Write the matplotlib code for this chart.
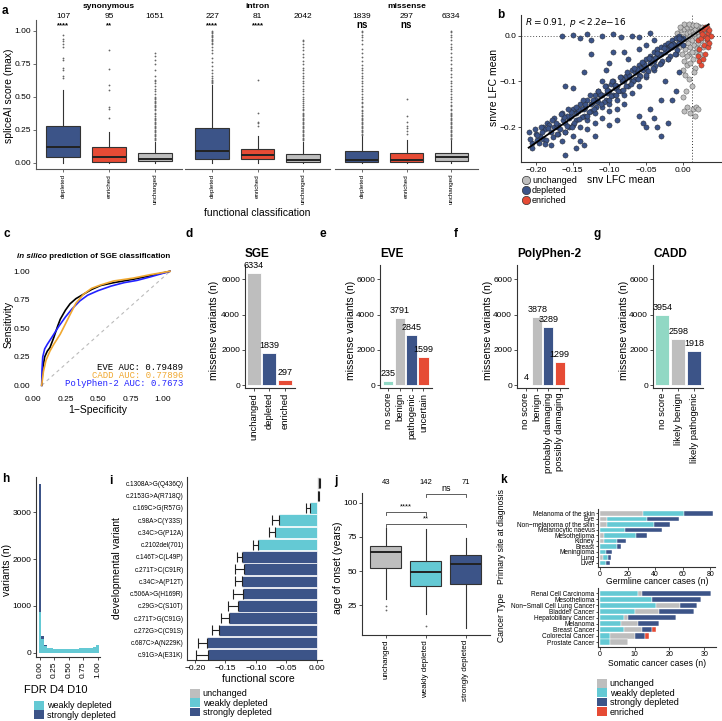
import numpy as np
import matplotlib.pyplot as plt
from matplotlib.patches import Patch
from matplotlib.lines import Line2D

plt.rcParams['font.family'] = ['Liberation Sans', 'DejaVu Sans']

GREY = '#BEBEBE'
BLUE = '#3C5488'
RED = '#E64B35'
CYAN = '#64C9D4'
MINT = '#91D8C4'
EDGE = '#333333'

# ---------------- panel a: spliceAI score boxplots ----------------
a_groups = ['synonymous', 'intron', 'missense']
a_classes = ['depleted', 'enriched', 'unchanged']
a_counts = [[107, 95, 1651], [227, 81, 2042], [1839, 297, 6334]]
a_signif = [['****', '**', ''], ['****', '****', ''], ['ns', 'ns', '']]
# (whislo, q1, med, q3, whishi)
a_stats = [
    [(0.0, 0.045, 0.12, 0.28, 0.55), (0.0, 0.005, 0.04, 0.12, 0.23), (0.0, 0.01, 0.03, 0.075, 0.16)],
    [(0.0, 0.03, 0.09, 0.265, 0.59), (0.0, 0.025, 0.055, 0.105, 0.2), (0.0, 0.005, 0.018, 0.065, 0.16)],
    [(0.0, 0.005, 0.018, 0.085, 0.2), (0.0, 0.005, 0.018, 0.07, 0.17), (0.0, 0.01, 0.04, 0.075, 0.17)],
]
a_fliers = [
    [[0.64, 0.66, 0.7, 0.72, 0.78, 0.79, 0.88, 0.9, 0.92, 0.94, 0.97],
     [0.34, 0.41, 0.42, 0.55, 0.59, 0.71, 0.85],
     [0.17, 0.18, 0.19, 0.2, 0.21, 0.22, 0.23, 0.24, 0.25, 0.26, 0.27, 0.28, 0.29, 0.3, 0.31, 0.32,
      0.33, 0.34, 0.35, 0.37, 0.38, 0.4, 0.41, 0.42, 0.43, 0.44, 0.45, 0.46, 0.47, 0.48, 0.49, 0.5,
      0.52, 0.54, 0.56, 0.58, 0.6, 0.62, 0.63, 0.66, 0.7, 0.75, 0.78, 0.81, 0.83]],
    [[0.6, 0.61, 0.62, 0.63, 0.64, 0.66, 0.68, 0.7, 0.73, 0.76, 0.79, 0.83, 0.85, 0.88, 0.9, 0.91,
      0.92, 0.93, 0.94, 0.95, 0.96, 0.97, 0.98, 0.99, 1.0],
     [0.28, 0.3, 0.31, 0.38, 0.63],
     [0.17, 0.18, 0.19, 0.2, 0.21, 0.22, 0.23, 0.24, 0.25, 0.26, 0.27, 0.28, 0.29, 0.3, 0.31, 0.32,
      0.33, 0.34, 0.35, 0.36, 0.37, 0.38, 0.4, 0.41, 0.42, 0.44, 0.45, 0.47, 0.48, 0.5, 0.52, 0.54,
      0.56, 0.58, 0.6, 0.62, 0.64, 0.66, 0.68, 0.7, 0.72, 0.75, 0.77, 0.8, 0.82, 0.85, 0.88, 0.9,
      0.92, 0.93]],
    [[0.21, 0.22, 0.23, 0.24, 0.25, 0.26, 0.27, 0.28, 0.29, 0.3, 0.31, 0.32, 0.33, 0.34, 0.35, 0.36,
      0.38, 0.39, 0.4, 0.42, 0.43, 0.45, 0.46, 0.48, 0.5, 0.52, 0.54, 0.56, 0.58, 0.6, 0.62, 0.64,
      0.66, 0.68, 0.7, 0.72, 0.74, 0.77, 0.8, 0.83, 0.86, 0.9, 0.93, 0.95, 0.97, 0.99, 1.0],
     [0.22, 0.24, 0.26, 0.28, 0.31, 0.35, 0.48],
     [0.18, 0.19, 0.2, 0.21, 0.22, 0.23, 0.24, 0.25, 0.26, 0.27, 0.28, 0.29, 0.3, 0.31, 0.32, 0.33,
      0.34, 0.35, 0.36, 0.37, 0.38, 0.4, 0.41, 0.43, 0.44, 0.46, 0.48, 0.5, 0.52, 0.54, 0.56, 0.58,
      0.6, 0.62, 0.65, 0.67, 0.7, 0.72, 0.75, 0.78, 0.8, 0.83, 0.86, 0.88, 0.9, 0.93, 0.95, 0.97,
      0.99, 1.0]],
]

# ---------------- panel b: snv vs snvre LFC ----------------
b_unch_x = [-0.008, -0.005, -0.003, 0.0, 0.0, 0.002, 0.003, 0.004, 0.005, 0.006, 0.007, 0.008, 0.009,
            0.01, 0.01, 0.011, 0.012, 0.013, 0.014, 0.015, 0.015, 0.016, 0.017, 0.018, 0.019, 0.02,
            0.02, 0.021, 0.022, 0.023, 0.024, 0.025, 0.026, 0.027, 0.028, 0.03, -0.002, -0.006,
            0.001, 0.005, 0.01, 0.016, 0.002, 0.008, 0.013, 0.018, -0.01, -0.004, 0.006, 0.012,
            0.003, 0.008, 0.0, 0.015, 0.012, 0.004, 0.0, 0.006, 0.013, 0.018, 0.002, 0.009, 0.016, 0.021]
b_unch_y = [0.005, -0.01, 0.012, -0.02, 0.0, 0.015, -0.03, -0.008, 0.005, 0.02, -0.015, -0.04, 0.008,
            -0.025, 0.0, 0.018, -0.01, -0.05, 0.01, -0.02, 0.004, -0.035, 0.015, -0.005, -0.028, 0.008,
            0.022, -0.015, 0.0, -0.04, 0.012, -0.01, 0.02, -0.025, 0.005, 0.015, -0.04, -0.025,
            -0.055, -0.065, -0.06, -0.07, 0.025, 0.025, 0.024, 0.024, -0.005, 0.02, -0.045, -0.035,
            -0.085, -0.095, -0.075, -0.08, -0.11, -0.12, -0.135, -0.155, -0.16, -0.155, -0.165, -0.17,
            -0.175, -0.16]
b_dep_x = [-0.21, -0.205, -0.2, -0.195, -0.19, -0.19, -0.185, -0.18, -0.18, -0.175, -0.175, -0.17,
           -0.17, -0.165, -0.165, -0.16, -0.16, -0.16, -0.155, -0.155, -0.15, -0.15, -0.15, -0.145,
           -0.145, -0.14, -0.14, -0.14, -0.135, -0.135, -0.13, -0.13, -0.13, -0.125, -0.125, -0.12,
           -0.12, -0.12, -0.115, -0.115, -0.11, -0.11, -0.11, -0.105, -0.105, -0.1, -0.1, -0.1,
           -0.095, -0.095, -0.09, -0.09, -0.09, -0.085, -0.085, -0.08, -0.08, -0.08, -0.075, -0.075,
           -0.07, -0.07, -0.07, -0.065, -0.065, -0.06, -0.06, -0.06, -0.055, -0.055, -0.05, -0.05,
           -0.05, -0.045, -0.045, -0.04, -0.04, -0.04, -0.035, -0.035, -0.03, -0.03, -0.03, -0.025,
           -0.025, -0.02, -0.02, -0.02, -0.015, -0.015, -0.01, -0.01, -0.01, -0.005, -0.005, 0.0, 0.0,
           -0.198, -0.188, -0.172, -0.163, -0.152, -0.143, -0.133, -0.122, -0.113, -0.103, -0.093,
           -0.083, -0.073, -0.063, -0.053, -0.043, -0.033, -0.023, -0.013, -0.003, -0.158, -0.138,
           -0.118, -0.098, -0.078, -0.058, -0.038, -0.018,
           -0.165, -0.15, -0.14, -0.13, -0.125, -0.11, -0.095, -0.085, -0.07, -0.06, -0.045, -0.125,
           -0.095, -0.075, -0.1, -0.08, -0.135, -0.16, -0.15, -0.105, -0.06, -0.05, -0.04, -0.11,
           -0.045, -0.04, -0.035, -0.03, -0.055, -0.05, -0.02, -0.015, -0.03, -0.06, -0.1, -0.12,
           -0.09, -0.145, -0.135, -0.01, -0.025, -0.005,
           -0.208, -0.202, -0.196, -0.192, -0.186, -0.182, -0.177, -0.173, -0.168, -0.162, -0.158,
           -0.153, -0.148, -0.143, -0.138, -0.133, -0.128, -0.123, -0.118, -0.113, -0.108, -0.103,
           -0.098, -0.093, -0.088, -0.083, -0.078, -0.073, -0.068, -0.063, -0.058, -0.053, -0.048,
           -0.043, -0.038, -0.033, -0.028, -0.023, -0.018, -0.013, -0.008, -0.003,
           -0.205, -0.199, -0.193, -0.188, -0.183, -0.178, -0.171, -0.166, -0.161, -0.156, -0.151,
           -0.146, -0.141, -0.136, -0.131, -0.126, -0.121, -0.116, -0.111, -0.106, -0.101, -0.096,
           -0.091, -0.086, -0.081, -0.076, -0.071, -0.066, -0.061, -0.056, -0.051, -0.046, -0.041,
           -0.036, -0.031, -0.026, -0.021, -0.016, -0.011, -0.006]
b_dep_y = [-0.21, -0.235, -0.215, -0.22, -0.2, -0.225, -0.19, -0.21, -0.24, -0.18, -0.2, -0.215,
           -0.195, -0.17, -0.23, -0.19, -0.21, -0.26, -0.18, -0.2, -0.16, -0.195, -0.22, -0.17,
           -0.185, -0.15, -0.2, -0.23, -0.16, -0.175, -0.14, -0.185, -0.205, -0.15, -0.165, -0.13,
           -0.17, -0.19, -0.12, -0.145, -0.155, -0.13, -0.18, -0.11, -0.14, -0.12, -0.15, -0.165,
           -0.1, -0.13, -0.11, -0.14, -0.16, -0.09, -0.12, -0.1, -0.13, -0.15, -0.085, -0.11,
           -0.075, -0.1, -0.125, -0.08, -0.095, -0.065, -0.085, -0.11, -0.06, -0.075, -0.05, -0.07,
           -0.09, -0.045, -0.06, -0.035, -0.055, -0.075, -0.03, -0.045, -0.025, -0.04, -0.06, -0.02,
           -0.035, -0.015, -0.03, -0.05, -0.01, -0.025, -0.005, -0.02, -0.04, 0.0, -0.015, -0.005, -0.02,
           -0.228, -0.205, -0.2, -0.185, -0.175, -0.165, -0.155, -0.145, -0.13, -0.125, -0.115,
           -0.1, -0.09, -0.075, -0.065, -0.05, -0.04, -0.028, -0.018, -0.008, -0.175, -0.16,
           -0.14, -0.105, -0.088, -0.07, -0.048, -0.022,
           0.0, 0.002, -0.005, 0.003, -0.01, 0.0, 0.004, -0.002, 0.0, -0.003, 0.005, -0.04,
           -0.035, -0.05, -0.06, -0.035, -0.08, -0.11, -0.115, -0.075, -0.03, -0.02, -0.01, -0.1,
           -0.16, -0.18, -0.2, -0.22, -0.19, -0.2, -0.19, -0.14, -0.14, -0.175, -0.195, -0.22,
           -0.185, -0.245, -0.24, -0.12, -0.1, -0.08,
           -0.225, -0.205, -0.235, -0.21, -0.228, -0.195, -0.222, -0.19, -0.205, -0.178, -0.198,
           -0.168, -0.19, -0.16, -0.178, -0.15, -0.168, -0.14, -0.155, -0.128, -0.145, -0.118,
           -0.132, -0.108, -0.12, -0.095, -0.11, -0.086, -0.1, -0.072, -0.088, -0.063, -0.078,
           -0.052, -0.066, -0.04, -0.055, -0.03, -0.045, -0.018, -0.032, -0.008,
           -0.245, -0.218, -0.2, -0.238, -0.202, -0.185, -0.215, -0.172, -0.21, -0.16, -0.2,
           -0.155, -0.182, -0.14, -0.175, -0.13, -0.16, -0.12, -0.15, -0.11, -0.14, -0.1,
           -0.13, -0.09, -0.118, -0.08, -0.105, -0.07, -0.095, -0.058, -0.085, -0.048, -0.07,
           -0.038, -0.062, -0.028, -0.05, -0.02, -0.04, -0.005]
b_enr_x = [0.02, 0.022, 0.025, 0.025, 0.028, 0.028, 0.03, 0.03, 0.032, 0.032, 0.034, 0.034, 0.036,
           0.036, 0.038, 0.02, 0.022, 0.024, 0.027, 0.03, 0.026, 0.033]
b_enr_y = [-0.01, -0.03, 0.01, -0.005, 0.015, -0.02, 0.0, -0.04, 0.02, -0.01, 0.005, -0.025, 0.012,
           -0.015, 0.0, -0.045, -0.055, -0.065, -0.05, 0.018, 0.003, -0.005]
b_fit_x = [-0.21, 0.035]
b_fit_y = [-0.245, 0.025]

# ---------------- panel c: ROC curves ----------------
c_eve_fpr = [0.067, 0.075, 0.09, 0.11, 0.13, 0.16, 0.19, 0.21, 0.25, 0.285, 0.33, 0.39, 0.45, 0.52,
             0.62, 0.77, 0.9, 1.054]
c_eve_tpr = [0.0, 0.15, 0.25, 0.3, 0.33, 0.42, 0.52, 0.58, 0.66, 0.715, 0.76, 0.8, 0.84, 0.875,
             0.9, 0.93, 0.96, 1.0]
c_cadd_fpr = [0.067, 0.08, 0.1, 0.13, 0.16, 0.21, 0.25, 0.285, 0.33, 0.39, 0.45, 0.52, 0.62, 0.77,
              0.9, 1.054]
c_cadd_tpr = [0.0, 0.12, 0.22, 0.3, 0.36, 0.45, 0.54, 0.62, 0.72, 0.8, 0.85, 0.88, 0.915, 0.94,
              0.97, 1.0]
c_pp2_fpr = [0.067, 0.07, 0.075, 0.09, 0.11, 0.15, 0.2, 0.25, 0.3, 0.36, 0.42, 0.5, 0.6, 0.7, 0.8,
             0.9, 1.054]
c_pp2_tpr = [0.0, 0.15, 0.25, 0.32, 0.36, 0.43, 0.52, 0.6, 0.67, 0.74, 0.79, 0.83, 0.87, 0.9, 0.92,
             0.95, 1.0]

# ---------------- panels d-g: missense variant counts ----------------
d_labels = ['unchanged', 'depleted', 'enriched']
d_values = [6334, 1839, 297]
e_labels = ['no score', 'benign', 'pathogenic', 'uncertain']
e_values = [235, 3791, 2845, 1599]
f_labels = ['no score', 'benign', 'probably damaging', 'possibly damaging']
f_values = [4, 3878, 3289, 1299]
g_labels = ['no score', 'likely benign', 'likely pathogenic']
g_values = [3954, 2598, 1918]

# ---------------- panel h: FDR histogram ----------------
h_bins = [0.0, 0.05, 0.1, 0.15, 0.2, 0.25, 0.3, 0.35, 0.4, 0.45, 0.5, 0.55, 0.6, 0.65, 0.7, 0.75,
          0.8, 0.85, 0.9, 0.95, 1.0]
h_weak = [880, 300, 150, 110, 90, 80, 75, 70, 75, 80, 70, 75, 80, 85, 90, 95, 100, 105, 110, 115, 160]
h_strong = [2720, 60, 10, 0, 0, 0, 0, 0, 0, 0, 0, 0, 0, 0, 0, 0, 0, 0, 0, 0, 0]

# ---------------- panel i: developmental variants ----------------
i_variants = ['c.1308A>G(Q436Q)', 'c.2153G>A(R718Q)', 'c.169C>G(R57G)', 'c.98A>C(Y33S)',
              'c.34C>G(P12A)', 'c.2102del(701)', 'c.146T>C(L49P)', 'c.271T>C(C91R)',
              'c.34C>A(P12T)', 'c.506A>G(H169R)', 'c.29G>C(S10T)', 'c.271T>G(C91G)',
              'c.272G>C(C91S)', 'c.687C>A(N229K)', 'c.91G>A(E31K)']
i_score = [0.006, 0.003, -0.011, -0.062, -0.068, -0.097, -0.122, -0.119, -0.122, -0.121, -0.13,
           -0.1435, -0.16, -0.181, -0.178]
i_err = [0.003, 0.001, 0.0065, 0.011, 0.01, 0.007, 0.009, 0.016, 0.013, 0.016, 0.015, 0.0145,
         0.0125, 0.0135, 0.021]
i_class = ['unchanged', 'unchanged', 'weakly depleted', 'weakly depleted', 'weakly depleted',
           'weakly depleted', 'strongly depleted', 'strongly depleted', 'strongly depleted',
           'strongly depleted', 'strongly depleted', 'strongly depleted', 'strongly depleted',
           'strongly depleted', 'strongly depleted']

# ---------------- panel j: age of onset ----------------
j_groups = ['unchanged', 'weakly depleted', 'strongly depleted']
j_counts = [43, 142, 71]
j_stats = [(29.6, 52, 64.2, 68.6, 81.3), (18.4, 39.1, 49.6, 57.2, 81), (8.2, 40.3, 55.2, 61.5, 74.4)]
j_fliers = [[24.5, 21.6], [10.0], []]

# ---------------- panel k: cancer cases ----------------
k_germ_sites = ['Melanoma of the skin', 'Eye', 'Non\u2212melanoma of the skin', 'Melanocytic naevus',
                'Mesothelioma', 'Kidney', 'Breast', 'Meningioma', 'Lung', 'Liver']
k_germ_unch = [31, 5, 5, 0, 3, 3, 0, 0, 2, 0]
k_germ_weak = [30, 29, 34, 18, 23, 9, 12, 4, 4, 4]
k_germ_strong = [21, 23, 12, 27, 8, 7, 3, 5, 2, 3]
k_som_types = ['Renal Cell Carcinoma', 'Mesothelioma', 'Non\u2212Small Cell Lung Cancer', 'Bladder Cancer',
               'Hepatobiliary Cancer', 'Melanoma', 'Breast Cancer', 'Colorectal Cancer', 'Prostate Cancer']
k_som_weak = [11, 15, 16, 10, 7, 6, 7, 3, 3]
k_som_unch = [1, 0, 7, 7, 1, 5, 5, 7, 5]
k_som_strong = [20, 14, 5, 10, 14, 6, 3, 3, 0]
k_som_enr = [0, 0, 0, 0, 0, 0, 1, 1, 0]

# ================================================================
W, H = 722, 721
fig = plt.figure(figsize=(W / 100, H / 100), dpi=100)

TICK = 6


def ax_px(x0, y0, x1, y1):
    return fig.add_axes([x0 / W, 1 - y1 / H, (x1 - x0) / W, (y1 - y0) / H])


def ftext(x, y, s, **kw):
    kw.setdefault('ha', 'center')
    kw.setdefault('va', 'center')
    return fig.text(x / W, 1 - y / H, s, **kw)


def classic(ax, left=True, color=EDGE):
    for sp in ['top', 'right']:
        ax.spines[sp].set_visible(False)
    ax.spines['left'].set_visible(left)
    for sp in ['left', 'bottom']:
        ax.spines[sp].set_color(color)
        ax.spines[sp].set_linewidth(0.8)
    ax.tick_params(labelsize=TICK, length=2, width=0.6, pad=1.5, color=color)


def letter(x, y, s):
    ftext(x, y, s, fontsize=8.5, fontweight='bold', ha='left')


def box(ax, stats, fliers, colors, positions, width):
    items = []
    for st, fl in zip(stats, fliers):
        items.append({'whislo': st[0], 'q1': st[1], 'med': st[2], 'q3': st[3], 'whishi': st[4],
                      'fliers': np.array(fl)})
    bp = ax.bxp(items, positions=positions, widths=width, patch_artist=True, showcaps=False,
                boxprops=dict(edgecolor=EDGE, linewidth=0.8),
                whiskerprops=dict(color=EDGE, linewidth=0.8),
                medianprops=dict(color='#222222', linewidth=1.4),
                flierprops=dict(marker='o', markersize=1.3, markerfacecolor='#666666',
                                markeredgecolor='none'))
    for patch, c in zip(bp['boxes'], colors):
        patch.set_facecolor(c)


# ---- panel a
letter(2, 11, 'a')
a_colors = [BLUE, RED, GREY]
a_boxes = [(36, 182), (185, 330), (335, 478)]
for g, (x0, x1) in enumerate(a_boxes):
    ax = ax_px(x0, 20, x1, 169)
    classic(ax, left=(g == 0), color='#555555')
    box(ax, a_stats[g], a_fliers[g], a_colors, [1, 2, 3], 0.74)
    ax.set_xlim(0.4, 3.6)
    ax.set_ylim(-0.048, 1.081)
    ax.set_yticks([0, 0.25, 0.5, 0.75, 1.0])
    ax.set_yticklabels(['0.00', '0.25', '0.50', '0.75', '1.00'])
    if g > 0:
        ax.tick_params(axis='y', left=False, labelleft=False)
    ax.set_xticks([1, 2, 3])
    ax.set_xticklabels(a_classes, rotation=90, fontsize=4.5)
    xc = (x0 + x1) / 2
    ftext(xc, 6, a_groups[g], fontsize=6, fontweight='bold')
    for k in range(3):
        ax.text(k + 1, 1.111, str(a_counts[g][k]), ha='center', va='center', fontsize=6,
                clip_on=False)
        s = a_signif[g][k]
        if s == 'ns':
            ax.text(k + 1, 1.045, s, ha='center', va='center', fontsize=7, fontweight='bold',
                    clip_on=False)
        elif s:
            ax.text(k + 1, 1.04, s, ha='center', va='center', fontsize=5.5, fontweight='bold',
                    clip_on=False)
ftext(9, 96, 'spliceAI score (max)', rotation=90, fontsize=7.5)
ftext(257, 213, 'functional classification', fontsize=7.5)

# ---- panel b
letter(497, 15, 'b')
ax = ax_px(521, 15, 721, 161.7)
classic(ax, color='#333333')
ax.axhline(0, color='#555555', lw=0.7, ls=(0, (1, 2)), zorder=1)
ax.axvline(0.012, color='#333333', lw=0.7, ls=(0, (1, 2)), zorder=1)
ax.scatter(b_unch_x, b_unch_y, s=14, c=GREY, edgecolors='#444444', linewidths=0.3, zorder=2)
ax.scatter(b_dep_x, b_dep_y, s=14, c=BLUE, edgecolors='#222222', linewidths=0.3, zorder=3)
ax.scatter(b_enr_x, b_enr_y, s=14, c=RED, edgecolors='#444444', linewidths=0.3, zorder=3)
ax.plot(b_fit_x, b_fit_y, color='black', lw=1.3, zorder=4)
ax.set_xlim(-0.2204, 0.0517)
ax.set_ylim(-0.2757, 0.0453)
ax.set_xticks([-0.2, -0.15, -0.1, -0.05, 0.0])
ax.set_xticklabels(['\u22120.20', '\u22120.15', '\u22120.10', '\u22120.05', '0.00'])
ax.set_yticks([-0.2, -0.1, 0.0])
ax.set_yticklabels(['\u22120.2', '\u22120.1', '0.0'])
ax.text(0.02, 0.95, r'$R = 0.91,\ p < 2.2e\mathrm{-}16$', transform=ax.transAxes, fontsize=6.5,
        ha='left', va='center')
ftext(494.5, 88, 'snvre LFC mean', rotation=90, fontsize=7.5)
ftext(621, 180, 'snv LFC mean', fontsize=7.5)
b_handles = [Line2D([], [], marker='o', ls='none', markersize=6, markerfacecolor=c,
                    markeredgecolor='#333333', markeredgewidth=0.5) for c in [GREY, BLUE, RED]]
fig.legend(b_handles, ['unchanged', 'depleted', 'enriched'], loc='upper left',
           bbox_to_anchor=(522 / W, 1 - 176 / H), frameon=False, fontsize=6.5,
           handlelength=0.8, handletextpad=0.3, labelspacing=0.12, borderpad=0, borderaxespad=0)

# ---- panel c
letter(4, 234, 'c')
ax = ax_px(33, 265, 176, 393)
ax.plot([0.067, 1.054], [0, 1], color='#BBBBBB', lw=0.8, ls=(0, (3, 3)))
ax.plot(c_eve_fpr, c_eve_tpr, color='black', lw=1.2)
ax.plot(c_pp2_fpr, c_pp2_tpr, color='#2222FF', lw=1.2)
ax.plot(c_cadd_fpr, c_cadd_tpr, color='#F0A830', lw=1.2)
ax.set_xlim(0, 1.1)
ax.set_ylim(-0.067, 1.055)
for sp in ax.spines.values():
    sp.set_visible(False)
ax.tick_params(labelsize=TICK, length=0, pad=2)
ax.set_xticks([0, 0.25, 0.5, 0.75, 1.0])
ax.set_xticklabels(['0.00', '0.25', '0.50', '0.75', '1.00'])
ax.set_yticks([0, 0.25, 0.5, 0.75, 1.0])
ax.set_yticklabels(['0.00', '0.25', '0.50', '0.75', '1.00'])
ftext(47, 256, 'in silico', fontsize=5.8, fontweight='bold', style='italic', ha='right')
ftext(47, 256, ' prediction of SGE classification', fontsize=5.8, fontweight='bold', ha='left')
ftext(9, 324, 'Sensitivity', rotation=90, fontsize=7.5)
ftext(98, 410, '1\u2212Specificity', fontsize=7.5)
for yy, s, c in [(367.5, 'EVE AUC: 0.79489', 'black'), (375.7, 'CADD AUC: 0.77896', '#F0A830'),
                 (383.8, 'PolyPhen-2 AUC: 0.7673', '#2222FF')]:
    ftext(183, yy, s, color=c, fontsize=6.5, family=['Liberation Mono', 'DejaVu Sans Mono'],
          ha='right')

# ---- panels d-g


def bar_panel(box_px, xlim, labels, values, colors, title, ylab_x, let, let_x):
    ax = ax_px(*box_px)
    classic(ax)
    xs = np.arange(len(values))
    ax.bar(xs, values, width=0.9, color=colors, edgecolor='white', linewidth=0.6)
    for x, v in zip(xs, values):
        ax.text(x, v + 180, str(v), ha='center', va='bottom', fontsize=6.5)
    ax.set_xlim(*xlim)
    ax.set_ylim(-153, 6808)
    ax.set_yticks([0, 2000, 4000, 6000])
    ax.set_xticks(xs)
    ax.set_xticklabels(labels, rotation=90, fontsize=6.8)
    ftext(box_px[0], 254, title, fontsize=8.5, fontweight='bold', ha='left')
    ftext(ylab_x, 330, 'missense variants (n)', rotation=90, fontsize=7.5)
    letter(let_x, 234, let)


bar_panel((245, 265, 295, 388), (-0.56, 2.66), d_labels, d_values, [GREY, BLUE, RED], 'SGE', 214, 'd', 185)
bar_panel((380, 265, 432, 388), (-0.68, 3.73), e_labels, e_values, [MINT, GREY, BLUE, RED], 'EVE', 351, 'e', 320)
bar_panel((517, 265, 568, 388), (-0.8, 3.75), f_labels, f_values, [MINT, GREY, BLUE, RED], 'PolyPhen-2', 488, 'f', 454)
bar_panel((653, 265, 703, 388), (-0.58, 2.55), g_labels, g_values, [MINT, GREY, BLUE], 'CADD', 624, 'g', 594)

# ---- panel h
letter(2, 479, 'h')
ax = ax_px(36, 477, 100, 657)
classic(ax)
ax.bar(h_bins, h_weak, width=0.05, color=CYAN, linewidth=0)
ax.bar(h_bins, h_strong, width=0.05, bottom=h_weak, color=BLUE, linewidth=0)
ax.set_xlim(-0.069, 1.04)
ax.set_ylim(-92, 3754)
ax.set_xticks([0, 0.25, 0.5, 0.75, 1.0])
ax.set_xticklabels(['0.00', '0.25', '0.50', '0.75', '1.00'], rotation=90)
ax.set_yticks([0, 1000, 2000, 3000])
ftext(7, 570, 'variants (n)', rotation=90, fontsize=7.5)
ftext(56, 690, 'FDR D4 D10', fontsize=8)
fig.legend([Patch(facecolor=CYAN), Patch(facecolor=BLUE)], ['weakly depleted', 'strongly depleted'],
           loc='upper left', bbox_to_anchor=(34 / W, 1 - 701 / H), frameon=False, fontsize=6.5,
           handlelength=1.1, handleheight=1.1, handletextpad=0.3, labelspacing=0.0, borderpad=0,
           borderaxespad=0)

# ---- panel i
letter(109, 481, 'i')
ax = ax_px(187, 477, 322, 660)
classic(ax)
ax.tick_params(axis='y', length=0, pad=2.5)
i_cmap = {'unchanged': GREY, 'weakly depleted': CYAN, 'strongly depleted': BLUE}
ys = np.arange(len(i_variants))
ax.barh(ys, i_score, height=0.94, color=[i_cmap[c] for c in i_class], edgecolor='white',
        linewidth=0.5, zorder=2)
ax.errorbar(i_score, ys, xerr=[i_err, [0] * len(i_err)], fmt='none', ecolor='#222222',
            elinewidth=0.8, capsize=3.5, capthick=0.8, zorder=3)
ax.set_xlim(-0.2131, 0.0087)
ax.set_ylim(14.41, -0.51)
ax.set_yticks(ys)
ax.set_yticklabels(i_variants, fontsize=4.7)
ax.set_xticks([-0.2, -0.15, -0.1, -0.05, 0.0])
ax.set_xticklabels(['\u22120.20', '\u22120.15', '\u22120.10', '\u22120.05', '0.00'])
ftext(117, 568, 'developmental variant', rotation=90, fontsize=7.5)
ftext(258, 679, 'functional score', fontsize=7.5)
fig.legend([Patch(facecolor=GREY), Patch(facecolor=CYAN), Patch(facecolor=BLUE)],
           ['unchanged', 'weakly depleted', 'strongly depleted'], loc='upper left',
           bbox_to_anchor=(190 / W, 1 - 689 / H), frameon=False, fontsize=6.5, handlelength=1.1,
           handleheight=1.1, handletextpad=0.3, labelspacing=0.0, borderpad=0, borderaxespad=0)

# ---- panel j
letter(334, 481, 'j')
ax = ax_px(362, 493, 490, 635)
classic(ax)
box(ax, j_stats, j_fliers, [GREY, CYAN, BLUE], [1, 2, 3], 0.77)
ax.set_xlim(0.41, 3.6)
ax.set_ylim(3.3, 107)
ax.set_yticks([25, 50, 75, 100])
ax.set_xticks([1, 2, 3])
ax.set_xticklabels(j_groups, rotation=90, fontsize=5.8)
for k in range(3):
    ftext(385.7 + 40.15 * k, 483, str(j_counts[k]), fontsize=5.5)
for (a, b2, yl, s) in [(2, 3, 106.4, 'ns'), (1, 2, 93.4, '****'), (1, 3, 84.4, '**')]:
    ax.plot([a, a, b2, b2], [yl - 2.4, yl, yl, yl - 2.4], color='#444444', lw=0.6, clip_on=False)
    ax.text((a + b2) / 2, yl + 0.8, s, ha='center', va='bottom', fontsize=5.5 if s != 'ns' else 6.5,
            clip_on=False)
ftext(338, 568, 'age of onset (years)', rotation=90, fontsize=7.5)

# ---- panel k
letter(500, 480, 'k')
ax = ax_px(598, 509, 715, 566.7)
classic(ax)
ax.tick_params(axis='x', labelsize=5, pad=0.8)
ax.tick_params(axis='y', length=1.5, pad=1)
ys = np.arange(len(k_germ_sites))
left = np.zeros(len(ys))
for vals, c in [(k_germ_unch, GREY), (k_germ_weak, CYAN), (k_germ_strong, BLUE)]:
    ax.barh(ys, vals, left=left, height=0.85, color=c, edgecolor='white', linewidth=0.3)
    left += np.array(vals)
ax.set_xlim(-1.45, 83.3)
ax.set_ylim(9.68, -0.79)
ax.set_yticks(ys)
ax.set_yticklabels(k_germ_sites, fontsize=4.7)
ax.set_xticks([0, 20, 40, 60, 80])
ftext(657, 582, 'Germline cancer cases (n)', fontsize=6.2)
ftext(502, 537, 'Primary site at diagnosis', rotation=90, fontsize=6.2)

ax = ax_px(598, 588, 716, 647.3)
classic(ax)
ax.tick_params(axis='x', labelsize=5, pad=0.8)
ax.tick_params(axis='y', length=1.5, pad=1)
ys = np.arange(len(k_som_types))
left = np.zeros(len(ys))
for vals, c in [(k_som_weak, CYAN), (k_som_unch, GREY), (k_som_strong, BLUE), (k_som_enr, RED)]:
    ax.barh(ys, vals, left=left, height=0.85, color=c, edgecolor='white', linewidth=0.3)
    left += np.array(vals)
ax.set_xlim(-0.58, 33.4)
ax.set_ylim(8.87, -0.87)
ax.set_yticks(ys)
ax.set_yticklabels(k_som_types, fontsize=4.7)
ax.set_xticks([0, 10, 20, 30])
ftext(657, 663, 'Somatic cancer cases (n)', fontsize=6.2)
ftext(502, 617, 'Cancer Type', rotation=90, fontsize=6.2)
fig.legend([Patch(facecolor=GREY), Patch(facecolor=CYAN), Patch(facecolor=BLUE), Patch(facecolor=RED)],
           ['unchanged', 'weakly depleted', 'strongly depleted', 'enriched'], loc='upper left',
           bbox_to_anchor=(597 / W, 1 - 679 / H), frameon=False, fontsize=6.5, handlelength=1.1,
           handleheight=1.1, handletextpad=0.3, labelspacing=0.0, borderpad=0, borderaxespad=0)

fig.savefig('out.png', dpi=100)
